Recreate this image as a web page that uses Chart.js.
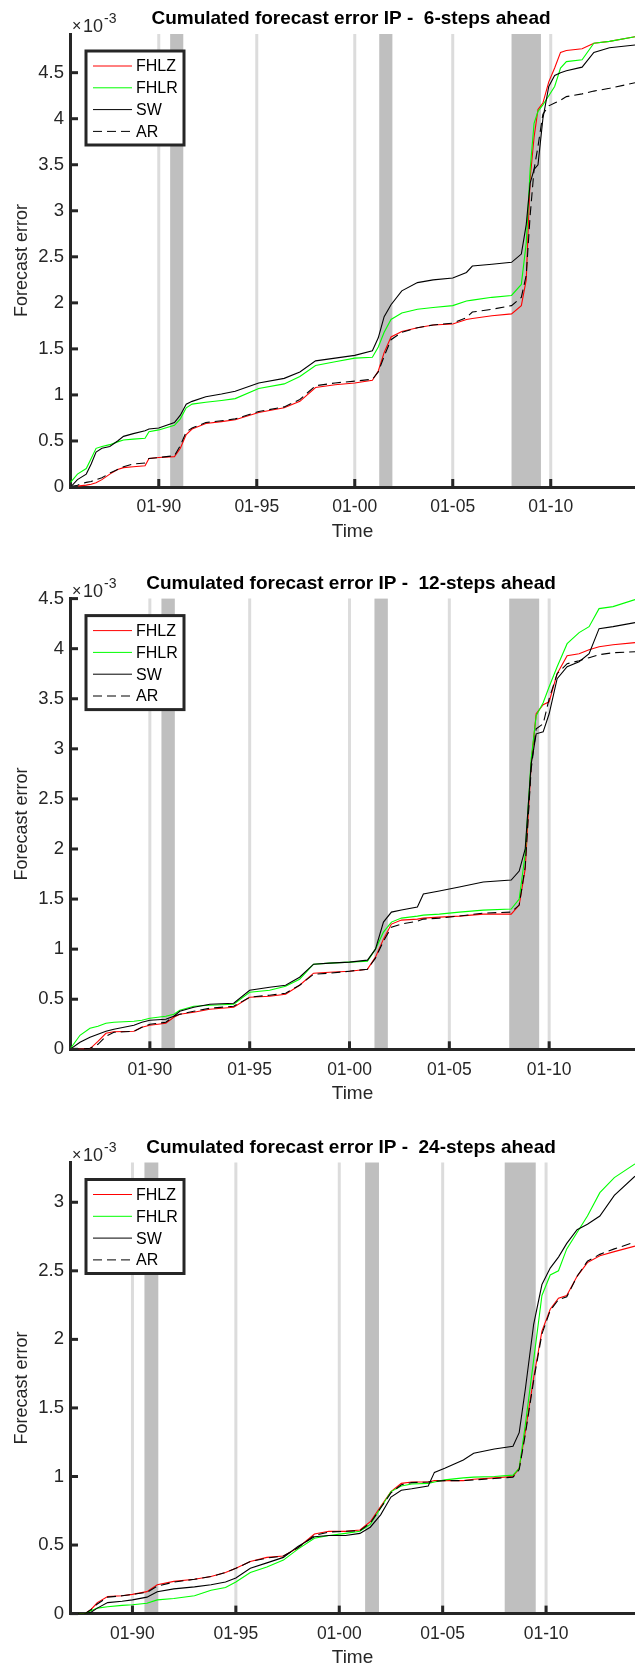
<!DOCTYPE html>
<html>
<head>
<meta charset="utf-8">
<script src="https://cdn.jsdelivr.net/npm/chart.js@4.4.1/dist/chart.umd.min.js"></script>
<style>
  html, body { margin: 0; padding: 0; background: #fff; }
  body { width: 635px; height: 1670px; position: relative; overflow: hidden; }
  .panel { position: absolute; left: 0; width: 635px; }
  canvas { display: block; }
</style>
</head>
<body>
<div class="panel" style="top:0px"><canvas id="c1" width="635" height="545"></canvas></div>
<div class="panel" style="top:545px"><canvas id="c2" width="635" height="565"></canvas></div>
<div class="panel" style="top:1110px"><canvas id="c3" width="635" height="560"></canvas></div>
<script>
const tickYears = [1990, 1995, 2000, 2005, 2010];
const tickLabels = ['01-90', '01-95', '01-00', '01-05', '01-10'];
const recessions = [[1990.58, 1991.25], [2001.25, 2001.92], [2008.0, 2009.5]];
const seriesNames = ['FHLZ', 'FHLR', 'SW', 'AR'];
const seriesColors = ['#ff0000', '#00ff00', '#000000', '#000000'];
const seriesDash = [[], [], [], [9, 5]];
const lastYear = 2014.3;

// 6-steps ahead
const p1Years = [1985.5, 1985.85, 1986.3, 1986.55, 1986.8, 1987.1, 1987.5, 1987.9, 1988.2, 1988.7, 1989.3, 1989.5, 1990.0, 1990.8, 1991.1, 1991.4, 1991.7, 1992.4, 1993.2, 1993.9, 1995.1, 1996.4, 1997.2, 1998.0, 1999.0, 2000.0, 2000.9, 2001.2, 2001.5, 2001.85, 2002.4, 2003.2, 2004.0, 2005.0, 2005.7, 2006.0, 2007.0, 2008.0, 2008.5, 2008.75, 2008.95, 2009.15, 2009.35, 2009.6, 2009.9, 2010.2, 2010.5, 2010.8, 2011.6, 2012.2, 2013.0, 2014.3];
const p1FHLZ = [0, 0.01, 0.02, 0.03, 0.045, 0.08, 0.14, 0.19, 0.21, 0.22, 0.23, 0.31, 0.32, 0.33, 0.42, 0.57, 0.63, 0.69, 0.71, 0.73, 0.81, 0.86, 0.93, 1.08, 1.11, 1.13, 1.16, 1.26, 1.46, 1.63, 1.69, 1.73, 1.76, 1.77, 1.82, 1.83, 1.86, 1.88, 1.97, 2.25, 3.35, 3.80, 4.10, 4.17, 4.40, 4.55, 4.72, 4.74, 4.76, 4.82, 4.84, 4.89];
const p1FHLR = [0.05, 0.14, 0.20, 0.31, 0.42, 0.44, 0.46, 0.49, 0.51, 0.52, 0.53, 0.60, 0.62, 0.67, 0.74, 0.86, 0.90, 0.92, 0.94, 0.96, 1.07, 1.12, 1.20, 1.32, 1.36, 1.40, 1.41, 1.52, 1.68, 1.82, 1.89, 1.93, 1.95, 1.97, 2.02, 2.03, 2.06, 2.08, 2.20, 2.65, 3.45, 3.95, 4.08, 4.15, 4.25, 4.35, 4.55, 4.62, 4.64, 4.82, 4.84, 4.89];
const p1SW = [0, 0.08, 0.14, 0.25, 0.38, 0.42, 0.44, 0.50, 0.55, 0.58, 0.61, 0.63, 0.64, 0.70, 0.78, 0.90, 0.93, 0.98, 1.01, 1.04, 1.13, 1.18, 1.25, 1.37, 1.40, 1.43, 1.48, 1.62, 1.85, 1.98, 2.13, 2.22, 2.25, 2.27, 2.33, 2.40, 2.42, 2.44, 2.53, 2.85, 3.30, 3.45, 3.50, 4.00, 4.35, 4.47, 4.50, 4.52, 4.56, 4.72, 4.77, 4.80];
const p1AR = [0, 0.02, 0.05, 0.06, 0.08, 0.10, 0.15, 0.19, 0.22, 0.25, 0.26, 0.31, 0.32, 0.34, 0.45, 0.60, 0.64, 0.70, 0.72, 0.74, 0.82, 0.87, 0.95, 1.10, 1.13, 1.15, 1.17, 1.25, 1.42, 1.60, 1.68, 1.73, 1.76, 1.78, 1.84, 1.90, 1.93, 1.97, 2.06, 2.30, 2.95, 3.45, 3.70, 4.05, 4.14, 4.17, 4.20, 4.24, 4.27, 4.30, 4.33, 4.39];

// 12-steps ahead
const p2Years = [1986.0, 1986.5, 1987.0, 1987.4, 1987.8, 1988.2, 1989.2, 1989.6, 1990.0, 1990.8, 1991.2, 1991.5, 1992.2, 1993.0, 1994.2, 1995.0, 1996.0, 1996.8, 1997.5, 1998.2, 1999.0, 2000.0, 2000.9, 2001.3, 2001.7, 2002.1, 2002.6, 2003.4, 2003.7, 2004.5, 2005.5, 2006.7, 2008.1, 2008.5, 2008.8, 2009.1, 2009.35, 2009.7, 2010.0, 2010.4, 2010.9, 2011.5, 2012.0, 2012.5, 2013.2, 2014.3];
const p2FHLZ = [0, 0, 0.005, 0.08, 0.16, 0.175, 0.18, 0.22, 0.24, 0.26, 0.32, 0.35, 0.37, 0.40, 0.42, 0.52, 0.53, 0.55, 0.64, 0.76, 0.77, 0.78, 0.80, 0.92, 1.10, 1.25, 1.29, 1.30, 1.31, 1.32, 1.33, 1.35, 1.35, 1.44, 1.80, 2.85, 3.35, 3.44, 3.47, 3.75, 3.93, 3.95, 3.99, 4.02, 4.04, 4.06];
const p2FHLR = [0, 0.14, 0.21, 0.23, 0.26, 0.27, 0.28, 0.29, 0.31, 0.33, 0.35, 0.39, 0.43, 0.44, 0.45, 0.57, 0.59, 0.63, 0.70, 0.85, 0.86, 0.87, 0.88, 1.00, 1.17, 1.27, 1.31, 1.33, 1.34, 1.35, 1.37, 1.39, 1.40, 1.50, 1.95, 2.90, 3.33, 3.46, 3.62, 3.82, 4.05, 4.16, 4.22, 4.40, 4.42, 4.49];
const p2SW = [0, 0.07, 0.12, 0.15, 0.18, 0.20, 0.24, 0.27, 0.29, 0.30, 0.33, 0.38, 0.42, 0.45, 0.46, 0.59, 0.62, 0.64, 0.72, 0.85, 0.86, 0.87, 0.89, 1.00, 1.27, 1.37, 1.39, 1.42, 1.55, 1.58, 1.62, 1.67, 1.69, 1.78, 2.00, 2.85, 3.15, 3.17, 3.35, 3.70, 3.82, 3.87, 3.95, 4.20, 4.22, 4.26];
const p2AR = [0, 0, 0.01, 0.05, 0.13, 0.17, 0.18, 0.22, 0.25, 0.27, 0.33, 0.35, 0.38, 0.41, 0.43, 0.52, 0.54, 0.56, 0.64, 0.75, 0.76, 0.78, 0.80, 0.91, 1.08, 1.22, 1.25, 1.28, 1.30, 1.31, 1.33, 1.36, 1.37, 1.44, 1.82, 2.80, 3.20, 3.25, 3.50, 3.75, 3.85, 3.88, 3.91, 3.94, 3.96, 3.97];

// 24-steps ahead
const p3Years = [1987.0, 1987.7, 1988.0, 1988.3, 1988.8, 1989.5, 1990.0, 1990.7, 1991.2, 1992.0, 1993.0, 1993.8, 1994.5, 1995.0, 1995.7, 1996.5, 1997.3, 1998.0, 1998.8, 1999.5, 2000.3, 2001.0, 2001.5, 2002.0, 2002.5, 2003.0, 2003.5, 2004.3, 2004.6, 2005.1, 2006.0, 2006.5, 2007.5, 2008.4, 2008.7, 2009.0, 2009.4, 2009.8, 2010.2, 2010.6, 2011.0, 2011.5, 2012.0, 2012.6, 2013.3, 2014.3];
const p3FHLZ = [0, 0, 0.03, 0.08, 0.125, 0.13, 0.14, 0.16, 0.21, 0.235, 0.25, 0.27, 0.30, 0.33, 0.38, 0.41, 0.42, 0.48, 0.58, 0.60, 0.60, 0.61, 0.67, 0.78, 0.89, 0.95, 0.96, 0.96, 0.97, 0.97, 0.97, 0.98, 0.99, 1.00, 1.06, 1.33, 1.72, 2.06, 2.22, 2.30, 2.32, 2.46, 2.56, 2.61, 2.64, 2.68];
const p3FHLR = [0, 0, 0.02, 0.04, 0.05, 0.06, 0.065, 0.075, 0.10, 0.11, 0.13, 0.17, 0.19, 0.23, 0.30, 0.34, 0.39, 0.47, 0.55, 0.57, 0.585, 0.60, 0.65, 0.77, 0.89, 0.93, 0.945, 0.95, 0.96, 0.975, 0.99, 0.995, 1.00, 1.01, 1.06, 1.38, 1.85, 2.32, 2.47, 2.50, 2.66, 2.78, 2.90, 3.07, 3.18, 3.28];
const p3SW = [0, 0, 0.01, 0.04, 0.08, 0.09, 0.10, 0.12, 0.16, 0.18, 0.195, 0.21, 0.23, 0.26, 0.33, 0.37, 0.41, 0.49, 0.56, 0.57, 0.57, 0.585, 0.63, 0.72, 0.85, 0.90, 0.91, 0.93, 1.03, 1.06, 1.12, 1.17, 1.20, 1.22, 1.32, 1.64, 2.11, 2.40, 2.52, 2.60, 2.70, 2.80, 2.84, 2.90, 3.05, 3.19];
const p3AR = [0, 0, 0.03, 0.07, 0.12, 0.13, 0.14, 0.155, 0.20, 0.23, 0.25, 0.27, 0.30, 0.33, 0.38, 0.405, 0.42, 0.48, 0.57, 0.595, 0.60, 0.605, 0.66, 0.77, 0.88, 0.94, 0.955, 0.96, 0.965, 0.97, 0.97, 0.975, 0.985, 0.995, 1.05, 1.31, 1.70, 2.04, 2.21, 2.29, 2.31, 2.46, 2.57, 2.62, 2.66, 2.71];

const textColor = '#262626';
const fontFamily = '"Liberation Sans", Arial, Helvetica, sans-serif';

const decor = {
  id: 'decor',
  beforeDraw(chart) {
    const ctx = chart.ctx, a = chart.chartArea, x = chart.scales.x;
    ctx.save();
    ctx.fillStyle = '#bfbfbf';
    recessions.forEach(r => {
      const x0 = x.getPixelForValue(r[0]), x1 = x.getPixelForValue(r[1]);
      ctx.fillRect(x0, a.top, x1 - x0, a.bottom - a.top);
    });
    ctx.strokeStyle = '#dcdcdc';
    ctx.lineWidth = 3;
    tickYears.forEach(v => {
      const px = x.getPixelForValue(v);
      ctx.beginPath();
      ctx.moveTo(px, a.top);
      ctx.lineTo(px, a.bottom);
      ctx.stroke();
    });
    ctx.restore();
  },
  afterDraw(chart, args, opts) {
    const ctx = chart.ctx, a = chart.chartArea, x = chart.scales.x, y = chart.scales.y;
    ctx.save();
    // inward tick marks
    ctx.strokeStyle = textColor;
    ctx.lineWidth = 3;
    tickYears.forEach(v => {
      const px = x.getPixelForValue(v);
      ctx.beginPath();
      ctx.moveTo(px, a.bottom);
      ctx.lineTo(px, a.bottom - 8);
      ctx.stroke();
    });
    y.ticks.forEach(t => {
      const py = y.getPixelForValue(t.value);
      ctx.beginPath();
      ctx.moveTo(a.left, py);
      ctx.lineTo(a.left + 8, py);
      ctx.stroke();
    });

    // title
    ctx.fillStyle = '#000';
    ctx.font = 'bold 19px ' + fontFamily;
    ctx.textAlign = 'center';
    ctx.textBaseline = 'middle';
    ctx.fillText(opts.title, 351, a.top - 15);

    // exponent
    ctx.fillStyle = textColor;
    ctx.textAlign = 'left';
    ctx.textBaseline = 'alphabetic';
    ctx.font = '16px ' + fontFamily;
    ctx.fillText('\u00d7', a.left + 2, a.top - 3);
    ctx.font = '18px ' + fontFamily;
    ctx.fillText('10', a.left + 13, a.top - 2);
    ctx.font = '14px ' + fontFamily;
    ctx.fillText('-3', a.left + 34, a.top - 11);

    // legend
    const bx = a.left + 16, by = a.top + 17, bw = 98, bh = 94;
    ctx.fillStyle = '#fff';
    ctx.fillRect(bx, by, bw, bh);
    ctx.strokeStyle = textColor;
    ctx.lineWidth = 3;
    ctx.strokeRect(bx, by, bw, bh);
    ctx.font = '16px ' + fontFamily;
    ctx.textBaseline = 'middle';
    chart.data.datasets.forEach((ds, i) => {
      const ry = by + 15 + i * 21.8;
      ctx.strokeStyle = ds.borderColor;
      ctx.lineWidth = 1;
      ctx.setLineDash(ds.borderDash);
      ctx.beginPath();
      ctx.moveTo(bx + 7, ry);
      ctx.lineTo(bx + 46, ry);
      ctx.stroke();
      ctx.setLineDash([]);
      ctx.fillStyle = '#000';
      ctx.fillText(ds.label, bx + 50, ry + 1);
    });
    ctx.restore();
  }
};

const panels = [
  { id: 'c1', title: 'Cumulated forecast error IP -  6-steps ahead', years: p1Years,
    values: [p1FHLZ, p1FHLR, p1SW, p1AR], xMin: 1985.47, yMax: 4.92, top: 34, bottom: 487 },
  { id: 'c2', title: 'Cumulated forecast error IP -  12-steps ahead', years: p2Years,
    values: [p2FHLZ, p2FHLR, p2SW, p2AR], xMin: 1986.0, yMax: 4.5, top: 53.6, bottom: 504.3 },
  { id: 'c3', title: 'Cumulated forecast error IP -  24-steps ahead', years: p3Years,
    values: [p3FHLZ, p3FHLR, p3SW, p3AR], xMin: 1986.98, yMax: 3.29, top: 52.5, bottom: 503.6 }
];

function makeChart(p) {
  const canvas = document.getElementById(p.id);
  const xAxisH = 56;
  new Chart(canvas, {
    type: 'line',
    data: {
      datasets: seriesNames.map((name, i) => ({
        label: name,
        data: p.years.map((yr, j) => ({ x: yr, y: p.values[i][j] })),
        borderColor: seriesColors[i],
        borderWidth: 1.1,
        borderDash: seriesDash[i],
        pointRadius: 0,
        tension: 0,
        fill: false,
        order: 3 - i
      }))
    },
    options: {
      responsive: false,
      animation: false,
      devicePixelRatio: 1,
      layout: { padding: { top: p.top, bottom: canvas.height - p.bottom - xAxisH, left: 0, right: 0 } },
      plugins: {
        legend: { display: false },
        tooltip: { enabled: false },
        decor: { title: p.title }
      },
      scales: {
        x: {
          type: 'linear',
          min: p.xMin,
          max: lastYear,
          afterBuildTicks: ax => { ax.ticks = tickYears.map(v => ({ value: v })); },
          afterFit: ax => { ax.height = xAxisH; },
          grid: { display: false, drawTicks: false },
          border: { display: true, color: textColor, width: 3 },
          ticks: {
            padding: 10, color: textColor, maxRotation: 0, autoSkip: false,
            font: { family: fontFamily, size: 17.5 },
            callback: v => tickLabels[tickYears.indexOf(v)]
          },
          title: { display: true, text: 'Time', color: textColor,
                   font: { family: fontFamily, size: 19 }, padding: { top: 0, bottom: 0 } }
        },
        y: {
          min: 0,
          max: p.yMax,
          afterBuildTicks: ax => {
            const t = [];
            for (let v = 0; v <= p.yMax + 1e-9; v += 0.5) t.push({ value: Math.round(v * 10) / 10 });
            ax.ticks = t;
          },
          afterFit: ax => { ax.width = 70; },
          grid: { display: false, drawTicks: false },
          border: { display: true, color: textColor, width: 3 },
          ticks: { padding: 6, color: textColor, font: { family: fontFamily, size: 18.5 },
                   callback: v => String(v) },
          title: { display: true, text: 'Forecast error', color: textColor,
                   font: { family: fontFamily, size: 18 }, padding: { top: 11, bottom: 0 } }
        }
      }
    },
    plugins: [decor]
  });
}

panels.forEach(makeChart);
</script>
</body>
</html>
